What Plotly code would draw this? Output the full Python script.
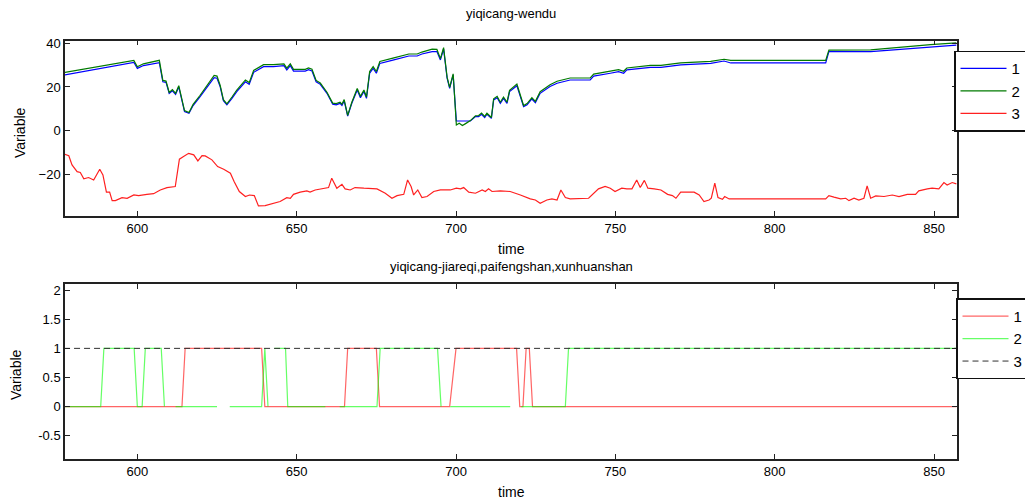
import plotly.graph_objects as go

# ---------------- top panel: yiqicang-wendu ----------------
t_s1 = [577, 598.9, 600, 601.9, 606.9, 608, 609, 610, 611, 612,
        613, 614.8, 616.2, 617.5, 619.7, 622.4, 624.1, 625, 626, 627,
        628.1, 629.7, 631.2, 633.9, 635.1, 636.5, 639.6, 642.7, 646, 646.9,
        648, 649, 652.7, 653.7, 654.8, 656.1, 657.4, 659.5, 661.3, 662.4,
        663.6, 664.2, 664.9, 666, 667.3, 669, 670, 671.1, 671.9, 672.9,
        674, 675, 676.1, 680.5, 685.2, 687.8, 689.3, 692.5, 694, 695.1,
        696.1, 697.2, 698, 699.1, 700.1, 704.5, 706.1, 707.1, 708, 709,
        709.7, 711.1, 711.8, 712.9, 713.9, 714.9, 716, 716.8, 719.1, 721.2,
        722.3, 723.8, 724.9, 726.4, 729.5, 731.7, 735.8, 742.1, 743.2, 748.4,
        751, 752.6, 753.6, 761, 764.3, 770.5, 779.9, 784.1, 786.2, 816,
        817, 830.1, 837.4, 843.7, 848.9, 857]
v_s1 = [25.5, 31.3, 28.5, 29.8, 31.1, 22.4, 22.1, 17.0, 18.2, 16.6,
        20.0, 8.7, 7.9, 11.5, 15.6, 20.9, 24.3, 24.0, 20.1, 13.7,
        11.8, 14.8, 17.9, 22.4, 21.2, 26.7, 29.3, 29.3, 29.8, 27.8,
        29.8, 27.3, 27.3, 27.9, 27.3, 22.4, 21.2, 17.1, 12.1, 11.8,
        12.5, 11.5, 13.6, 6.7, 12.5, 18.6, 15.1, 17.9, 14.8, 26.3,
        28.5, 26.3, 30.8, 32.4, 34.2, 34.2, 35.1, 36.2, 36.2, 32.4,
        37.4, 24.0, 19.4, 25.5, 4.4, 4.4, 6.4, 6.4, 7.5, 6.0,
        7.5, 5.6, 14.0, 15.1, 12.5, 14.8, 12.5, 17.9, 20.5, 11.0,
        11.8, 14.5, 12.8, 17.1, 20.2, 21.7, 23.2, 23.2, 25.0, 26.3,
        27.0, 26.3, 27.8, 29.0, 29.0, 30.1, 30.8, 31.9, 31.0, 31.0,
        36.2, 36.2, 37.1, 37.7, 38.5, 39.2]

t_s2 = [577, 598.9, 600, 601.9, 606.9, 608, 609, 610, 611, 612,
        613, 614.8, 616.2, 617.5, 619.7, 622.4, 624.1, 625, 626, 627,
        628.1, 629.7, 631.2, 633.9, 635.1, 636.5, 639.6, 642.7, 646, 646.9,
        648, 649, 652.7, 653.7, 654.8, 656.1, 657.4, 659.5, 661.3, 662.4,
        663.6, 664.2, 664.9, 666, 667.3, 669, 670, 671.1, 671.9, 672.9,
        674, 675, 676.1, 680.5, 685.2, 687.8, 689.3, 692.5, 694, 695.1,
        696.1, 697.2, 698, 699.1, 700.1, 701, 702, 703, 704.5, 706.1,
        707.1, 708, 709, 709.7, 711.1, 711.8, 712.9, 713.9, 714.9, 716,
        716.8, 719.1, 721.2, 722.3, 723.8, 724.9, 726.4, 729.5, 731.7, 735.8,
        742.1, 743.2, 748.4, 751, 752.6, 753.6, 761, 764.3, 770.5, 779.9,
        784.1, 786.2, 816, 817, 830.1, 837.4, 843.7, 848.9, 857]
v_s2 = [26.6, 32.2, 29.3, 30.6, 32.2, 23.0, 22.7, 17.5, 18.8, 17.1,
        20.6, 9.2, 8.3, 12.0, 16.2, 21.6, 25.3, 25.0, 20.7, 14.2,
        12.3, 15.4, 18.6, 23.2, 22.0, 27.6, 30.2, 30.2, 30.6, 28.6,
        30.6, 28.1, 28.1, 28.7, 28.1, 23.0, 21.8, 17.6, 12.6, 12.4,
        13.0, 12.1, 14.2, 7.0, 13.0, 19.3, 15.7, 18.6, 15.4, 27.1,
        29.3, 27.1, 31.7, 33.3, 35.1, 35.1, 36.0, 37.3, 37.2, 33.0,
        38.0, 24.5, 19.8, 26.0, 2.6, 3.4, 2.3, 3.2, 4.6, 6.8,
        6.9, 8.0, 6.5, 8.0, 6.0, 14.6, 15.7, 13.0, 15.4, 13.0,
        18.5, 21.3, 11.5, 12.4, 15.1, 13.4, 17.8, 21.0, 22.6, 24.1,
        24.1, 25.9, 27.2, 27.9, 27.2, 28.7, 29.9, 29.9, 31.0, 31.7,
        32.7, 32.2, 32.2, 36.9, 37.0, 38.0, 38.6, 39.4, 40.2]

t_s3 = [577, 578.5, 579.5, 581.1, 582.1, 583.2, 584.7, 586.3, 588.2, 589.2,
        590.3, 591.3, 592.1, 593.1, 595.2, 596.8, 598.9, 600.4, 603, 605.1,
        607.2, 609.3, 611.9, 613.2, 614.5, 616.1, 617.7, 619, 620.3, 621.3,
        623.4, 625.2, 627.1, 629.2, 630.4, 632, 633.9, 635.2, 636.7, 638,
        640.1, 642.7, 644.8, 646.9, 648, 649, 651.1, 653.2, 654.2, 655.8,
        658.4, 660, 661, 662.6, 664.2, 665.2, 666.8, 668.3, 671.1, 673.1,
        675.2, 677.8, 679.9, 681.5, 683.6, 684.8, 685.9, 686.7, 688, 689.3,
        690.9, 693, 695.1, 698.2, 700.1, 701.4, 702.4, 704, 706.1, 708.2,
        709.2, 710.2, 711.3, 713.9, 717, 720.2, 723.3, 724.9, 726.4, 728.5,
        730.1, 731.7, 732.9, 734.3, 735.8, 741.6, 743.2, 744.7, 746.8, 748.4,
        749.9, 752, 753.6, 755.2, 756.7, 757.8, 759.1, 760.2, 762.2, 764.3,
        766.4, 767.9, 769, 770.5, 774.7, 776.3, 777.8, 779.4, 780.1, 781.2,
        782.2, 783.6, 784.3, 785.7, 816, 817, 818.6, 820.7, 822.3, 823.3,
        824.9, 826.4, 828, 829, 830.1, 831.7, 834.3, 836.9, 839, 841.6,
        844.2, 845.2, 847.9, 849.4, 851.5, 853.1, 854.1, 855.7, 857]
v_s3 = [-10.8, -11.5, -15.7, -18.8, -19.2, -22.1, -21.5, -22.6, -17.7, -20.3,
        -28.2, -28.2, -32.1, -32.1, -30.7, -31.0, -29.5, -29.8, -29.2, -28.9,
        -27.2, -26.1, -25.6, -13.1, -11.9, -10.4, -11.1, -13.9, -11.5, -11.6,
        -13.4, -16.5, -17.7, -19.5, -23.4, -27.9, -30.2, -29.5, -29.8, -34.5,
        -34.4, -33.3, -32.5, -30.7, -31.0, -29.2, -28.2, -27.6, -28.2, -27.2,
        -26.4, -26.1, -21.8, -26.4, -24.6, -26.7, -27.2, -26.1, -26.4, -26.4,
        -26.7, -28.7, -31.0, -29.8, -29.2, -22.6, -25.6, -29.5, -27.2, -30.7,
        -30.2, -27.9, -27.2, -27.2, -26.4, -26.7, -26.1, -28.2, -28.7, -27.2,
        -27.9, -26.7, -27.9, -27.6, -27.9, -29.5, -31.3, -31.8, -33.3, -31.8,
        -31.3, -31.8, -27.2, -30.7, -31.3, -31.0, -28.7, -26.7, -25.6, -26.4,
        -27.9, -26.4, -26.7, -26.7, -22.6, -26.1, -22.8, -26.4, -26.7, -27.2,
        -29.2, -29.8, -31.0, -28.2, -28.2, -29.5, -32.5, -31.8, -31.0, -24.1,
        -30.7, -31.5, -30.2, -31.3, -31.3, -29.8, -30.5, -31.3, -31.0, -32.1,
        -31.0, -31.8, -31.0, -25.3, -31.0, -29.9, -30.2, -29.5, -30.2, -29.2,
        -29.2, -27.6, -26.7, -26.4, -26.7, -23.8, -24.9, -23.8, -24.4]

# ---------------- bottom panel: jiareqi, paifengshan, xunhuanshan ----------------
t_b1 = [577, 614, 615, 639, 640, 665, 666, 675, 676, 698, 700, 719, 720, 721, 722, 723, 724, 857]
v_b1 = [0, 0, 1, 1, 0, 0, 1, 1, 0, 0, 1, 1, 0, 0, 1, 1, 0, 0]

t_b2 = [577, 588.5, 589.5, 599, 600, 601.5, 602.5, 607.5, 608.5, 609,
        612, 625, 626, 629, 639, 640, 641, 642,
        643, 646.5, 647.2, 659, 660,
        663.5, 675.2, 676.2, 694.2, 695.3, 696,
        698.2, 717, 718,
        720.5, 734.3, 735.3, 857]
v_b2 = [0, 0, 1, 1, 0, 0, 1, 1, 0, None,
        0, 0, None, 0, 0, 1, 0, None,
        1, 1, 0, 0, None,
        0, 0, 1, 1, 0, None,
        0, 0, None,
        0, 0, 1, 1]

t_b3 = [577, 857]
v_b3 = [1, 1]

x_ticks = [600, 650, 700, 750, 800, 850]
y1_ticks = [-20, 0, 20, 40]
y2_ticks = [-0.5, 0, 0.5, 1, 1.5, 2]
y2_ticktext = ["-0.5", "0", "0.5", "1", "1.5", "2"]
legend_names = ["1", "2", "3"]

FONT = "Liberation Sans, Arial, sans-serif"
W, H = 1025, 499
x_dom = [65 / W, 957 / W]
y1_dom = [1 - 215.5 / H, 1 - 40.7 / H]
y2_dom = [1 - 459 / H, 1 - 284.3 / H]

fig = go.Figure()
fig.add_trace(go.Scatter(x=t_s1, y=v_s1, mode="lines", name=legend_names[0],
                         line=dict(color="#0000ff", width=1.2), xaxis="x", yaxis="y", legend="legend"))
fig.add_trace(go.Scatter(x=t_s2, y=v_s2, mode="lines", name=legend_names[1],
                         line=dict(color="#007a00", width=1.2), xaxis="x", yaxis="y", legend="legend"))
fig.add_trace(go.Scatter(x=t_s3, y=v_s3, mode="lines", name=legend_names[2],
                         line=dict(color="#ff2020", width=1.2), xaxis="x", yaxis="y", legend="legend"))

fig.add_trace(go.Scatter(x=t_b1, y=v_b1, mode="lines", name=legend_names[0], opacity=0.6,
                         line=dict(color="#ff0000", width=1.2), xaxis="x2", yaxis="y2", legend="legend2"))
fig.add_trace(go.Scatter(x=t_b2, y=v_b2, mode="lines", name=legend_names[1], opacity=0.6,
                         connectgaps=False,
                         line=dict(color="#00ff00", width=1.2), xaxis="x2", yaxis="y2", legend="legend2"))
fig.add_trace(go.Scatter(x=t_b3, y=v_b3, mode="lines", name=legend_names[2],
                         line=dict(color="#303030", width=1, dash="6px,4px"), xaxis="x2", yaxis="y2", legend="legend2"))

axis_common = dict(showline=True, linecolor="#222222", linewidth=1.5, mirror="ticks",
                   ticks="inside", ticklen=5, tickcolor="#222222", tickwidth=1,
                   showgrid=False, zeroline=False,
                   tickfont=dict(family=FONT, size=13, color="#000000"))

fig.update_layout(
    width=W, height=H,
    margin=dict(l=0, r=0, t=0, b=0, autoexpand=False),
    paper_bgcolor="white", plot_bgcolor="white",
    font=dict(family=FONT, size=13, color="#000000"),
    xaxis=dict(domain=x_dom, range=[577.3, 857.2], tickvals=x_ticks, anchor="y", **axis_common),
    yaxis=dict(domain=y1_dom, range=[-38.9, 41.2], tickvals=y1_ticks, anchor="x", **axis_common),
    xaxis2=dict(domain=x_dom, range=[577.3, 857.2], tickvals=x_ticks, anchor="y2", **axis_common),
    yaxis2=dict(domain=y2_dom, range=[-0.9, 2.1], tickvals=y2_ticks, ticktext=y2_ticktext,
                anchor="x2", **axis_common),
    legend=dict(x=954 / W, y=1 - 50.7 / H, xanchor="left", yanchor="top",
                bgcolor="white", bordercolor="#111111", borderwidth=1.5,
                font=dict(family=FONT, size=15), itemwidth=46, tracegroupgap=0),
    legend2=dict(x=956 / W, y=1 - 298.3 / H, xanchor="left", yanchor="top",
                 bgcolor="white", bordercolor="#111111", borderwidth=1.5,
                 font=dict(family=FONT, size=15), itemwidth=46, tracegroupgap=0),
    showlegend=True,
)

ann = [
    dict(text="yiqicang-wendu", x=(65 + 957) / 2 / W, y=1 - 13 / H, size=13, angle=0),
    dict(text="time", x=(65 + 957) / 2 / W, y=1 - 249 / H, size=14, angle=0),
    dict(text="yiqicang-jiareqi,paifengshan,xunhuanshan", x=(65 + 957) / 2 / W, y=1 - 266 / H, size=13, angle=0),
    dict(text="time", x=(65 + 957) / 2 / W, y=1 - 492 / H, size=14, angle=0),
    dict(text="Variable", x=20 / W, y=1 - 133 / H, size=14, angle=-90),
    dict(text="Variable", x=16 / W, y=1 - 375 / H, size=14, angle=-90),
]
for a in ann:
    fig.add_annotation(text=a["text"], x=a["x"], y=a["y"], xref="paper", yref="paper",
                       xanchor="center", yanchor="middle", showarrow=False, textangle=a["angle"],
                       font=dict(family=FONT, size=a["size"], color="#000000"))

fig.write_html("out.html", config={"displayModeBar": False},
               post_script="document.body.style.margin='0';")
